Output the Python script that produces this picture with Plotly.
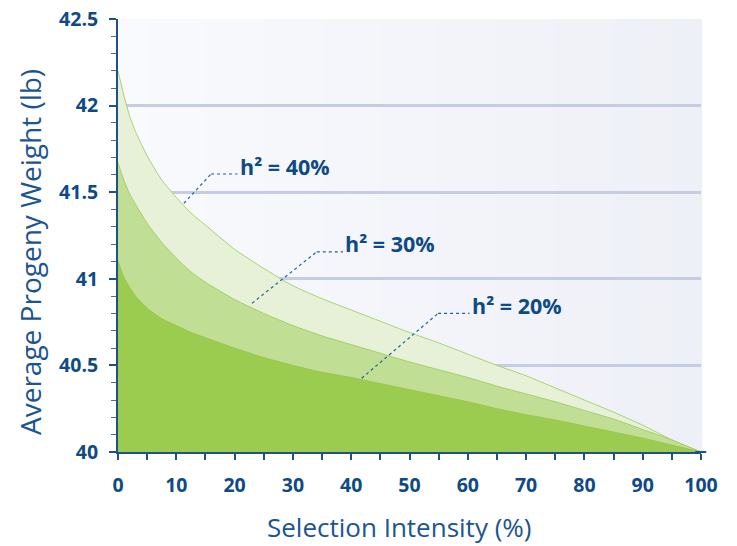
import plotly.graph_objects as go

# Selection intensity (%) sampled along the x axis
intensity = [0, 1, 2, 3, 5, 7.5, 10, 12.5, 15, 20, 25, 30, 35, 40, 45,
             50, 55, 60, 65, 70, 75, 80, 85, 90, 95, 100]

# Average progeny weight (lb) for each heritability level
weight_h40 = [42.20, 42.06, 41.94, 41.85, 41.71, 41.57, 41.47, 41.38, 41.31,
              41.17, 41.06, 40.96, 40.885, 40.82, 40.755, 40.69, 40.63, 40.565,
              40.50, 40.44, 40.37, 40.30, 40.23, 40.155, 40.07, 40.00]
weight_h30 = [41.67, 41.57, 41.49, 41.43, 41.32, 41.21, 41.12, 41.04, 40.98,
              40.88, 40.80, 40.73, 40.67, 40.62, 40.57, 40.52, 40.475, 40.43,
              40.38, 40.335, 40.29, 40.24, 40.19, 40.13, 40.07, 40.00]
weight_h20 = [41.10, 41.01, 40.95, 40.90, 40.83, 40.77, 40.73, 40.69, 40.66,
              40.60, 40.545, 40.50, 40.46, 40.43, 40.395, 40.36, 40.325, 40.29,
              40.25, 40.215, 40.185, 40.15, 40.115, 40.08, 40.04, 40.00]

series_labels = ["h² = 40%", "h² = 30%", "h² = 20%"]
x_ticks = [0, 10, 20, 30, 40, 50, 60, 70, 80, 90, 100]
y_ticks = [40, 40.5, 41, 41.5, 42, 42.5]
y_tick_text = ["40", "40.5", "41", "41.5", "42", "42.5"]

TEXT_DARK = "#0E4A85"
TEXT_TITLE = "#1A5592"
AXIS = "#1F5089"
GRID = "#C6CDE2"
LEADER = "#2360A0"

fills = ["#E6F1D8", "#C1DE95", "#9BCB4F"]
edges = ["#A9D36C", "#A4D064", "#97C84B"]
series = [weight_h40, weight_h30, weight_h20]

fig = go.Figure()
for ys, fc, ec, name in zip(series, fills, edges, series_labels):
    fig.add_trace(go.Scatter(
        x=intensity, y=ys, mode="lines", name=name,
        line=dict(color=ec, width=1, shape="spline", smoothing=0.5),
        fill="tozeroy", fillcolor=fc, hoverinfo="skip", showlegend=False,
    ))

# soft left-to-right background wash behind the grid
shapes = []
n_strips = 40
c0 = (249, 250, 253)
c1 = (238, 240, 247)
for i in range(n_strips):
    t = i / (n_strips - 1)
    col = tuple(round(a + (b - a) * t) for a, b in zip(c0, c1))
    shapes.append(dict(
        type="rect", xref="paper", yref="paper", layer="below",
        x0=i / n_strips, x1=(i + 1) / n_strips + 0.002, y0=0, y1=1,
        fillcolor="rgb(%d,%d,%d)" % col, line=dict(width=0),
    ))

# short overshoot of the x axis line past 100
shapes.append(dict(type="line", xref="paper", yref="paper",
                   x0=0.99, x1=1.009, y0=0, y1=0,
                   line=dict(color=AXIS, width=2)))

# label leaders: diagonal run into the band, then a short horizontal run
leaders = [
    ((11.3, 41.436), (15.96, 41.605), (20.5, 41.605)),
    ((23.0, 40.859), (34.1, 41.156), (38.6, 41.156)),
    ((41.8, 40.426), (54.9, 40.80), (60.3, 40.80)),
]
annotations = []
for (p0, p1, p2), label in zip(leaders, series_labels):
    shapes.append(dict(type="line", xref="x", yref="y",
                       x0=p0[0], y0=p0[1], x1=p1[0], y1=p1[1],
                       line=dict(color=LEADER, width=1.2, dash="dot")))
    shapes.append(dict(type="line", xref="x", yref="y",
                       x0=p1[0], y0=p1[1], x1=p2[0], y1=p2[1],
                       line=dict(color=LEADER, width=1.2, dash="dot")))
    annotations.append(dict(
        x=p2[0], y=p2[1], xref="x", yref="y", text=label,
        showarrow=False, xanchor="left", yanchor="middle", xshift=0, yshift=8,
        font=dict(family="Open Sans", size=21.5, color=TEXT_DARK, weight="bold"),
    ))

# axis titles placed as free text
annotations.append(dict(
    text="Selection Intensity (%)", xref="paper", yref="paper",
    x=0, y=0, xshift=399.7 - 118, yshift=-(527 - 452),
    xanchor="center", yanchor="middle", showarrow=False,
    font=dict(family="Open Sans", size=26, color=TEXT_TITLE),
))
annotations.append(dict(
    text="Average Progeny Weight (lb)", xref="paper", yref="paper",
    x=0, y=0, xshift=30 - 118, yshift=452 - 252,
    xanchor="center", yanchor="middle", showarrow=False, textangle=-90,
    font=dict(family="Open Sans", size=28, color=TEXT_TITLE),
))

fig.update_layout(
    width=737, height=546,
    margin=dict(l=118, r=36, t=19, b=94, autoexpand=False),
    paper_bgcolor="white",
    plot_bgcolor="rgba(0,0,0,0)",
    shapes=shapes,
    annotations=annotations,
    xaxis=dict(
        range=[0, 100], tickmode="array", tickvals=x_ticks,
        ticktext=[str(v) for v in x_ticks], automargin=False,
        showgrid=False, zeroline=False,
        showline=True, linecolor=AXIS, linewidth=2,
        ticks="outside", ticklen=6, tickwidth=1.5, tickcolor=AXIS,
        ticklabelstandoff=9,
        minor=dict(dtick=5, ticks="outside", ticklen=6, tickwidth=1.5,
                   tickcolor=AXIS, showgrid=False),
        tickfont=dict(family="Open Sans", size=19.5, color=TEXT_DARK, weight="bold"),
    ),
    yaxis=dict(
        range=[40, 42.5], tickmode="array", tickvals=y_ticks, ticktext=y_tick_text,
        automargin=False,
        showgrid=True, gridcolor=GRID, gridwidth=2.5, zeroline=False,
        showline=True, linecolor=AXIS, linewidth=2,
        ticks="outside", ticklen=7, tickwidth=1.5, tickcolor=AXIS,
        ticklabelstandoff=7,
        minor=dict(dtick=0.1, ticks="outside", ticklen=5, tickwidth=1.2,
                   tickcolor="#4D6F99", showgrid=False),
        tickfont=dict(family="Open Sans", size=19.5, color=TEXT_DARK, weight="bold"),
    ),
)

fig.write_html("out.html")
